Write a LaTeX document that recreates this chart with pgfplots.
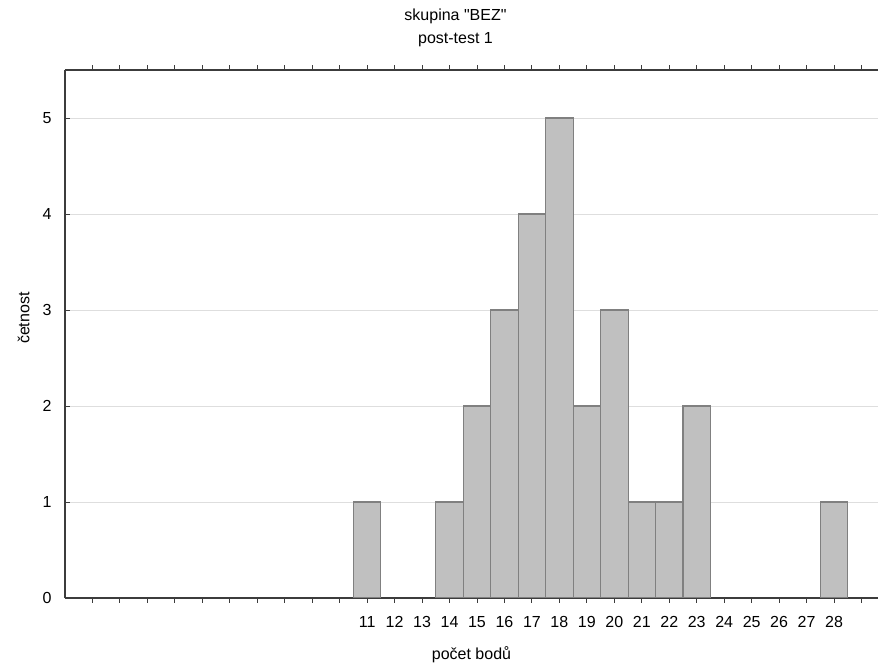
\documentclass[border=0pt]{standalone}
\usepackage{pgfplots}
\pgfplotsset{compat=1.18}
\usepackage{fontspec}
\setmainfont{Liberation Sans}[Ligatures=TeXOff]

\definecolor{barfill}{RGB}{192,192,192}
\definecolor{baredge}{RGB}{128,128,128}
\definecolor{gridgray}{RGB}{222,222,222}
\definecolor{axisgray}{RGB}{60,60,60}

\begin{document}
\fontsize{12}{14}\selectfont
\begin{tikzpicture}
\begin{axis}[
  scale only axis,
  width=609.75pt, height=396pt,
  xmin=0, xmax=29.6,
  ymin=0, ymax=5.5,
  axis x line*=box,
  axis y line*=left,
  axis line style={axisgray, line width=0.8pt},
  tick align=inside,
  major tick length=3.5pt,
  tick style={axisgray, line width=0.7pt},
  xtick={1,...,29},
  xticklabels={,,,,,,,,,,11,12,13,14,15,16,17,18,19,20,21,22,23,24,25,26,27,28,},
  ytick={0,1,2,3,4,5},
  ymajorgrids,
  grid style={gridgray, line width=0.7pt},
  /pgf/number format/assume math mode=true,
  every x tick label/.style={anchor=center, yshift=-14.2pt},
  every y tick label/.style={anchor=center, xshift=-13.5pt},
  title={skupina "BEZ"\\[3.5pt]post-test 1},
  title style={at={(axis description cs:0.5,1)}, anchor=south, align=center,
               inner sep=0pt, yshift=11pt, xshift=-12pt},
  xlabel={počet bodů},
  every axis x label/.style={at={(axis description cs:0.5,0)}, anchor=north,
               inner sep=0pt, yshift=-36.5pt},
  ylabel={četnost},
  every axis y label/.style={at={(axis description cs:0,0.53)}, xshift=-31pt,
               rotate=90, anchor=center, inner sep=0pt},
  ybar, bar width=1, bar shift=0pt,
]
\addplot[fill=barfill, draw=baredge, line width=0.8pt] coordinates {
  (11,1) (14,1) (15,2) (16,3) (17,4) (18,5) (19,2) (20,3)
  (21,1) (22,1) (23,2) (28,1)
};
\end{axis}
\pgfresetboundingbox
\path[use as bounding box]
  ([xshift=-48.75pt,yshift=-48.75pt]current axis.south west)
  rectangle ([yshift=52.5pt]current axis.north east);
\end{tikzpicture}
\end{document}
